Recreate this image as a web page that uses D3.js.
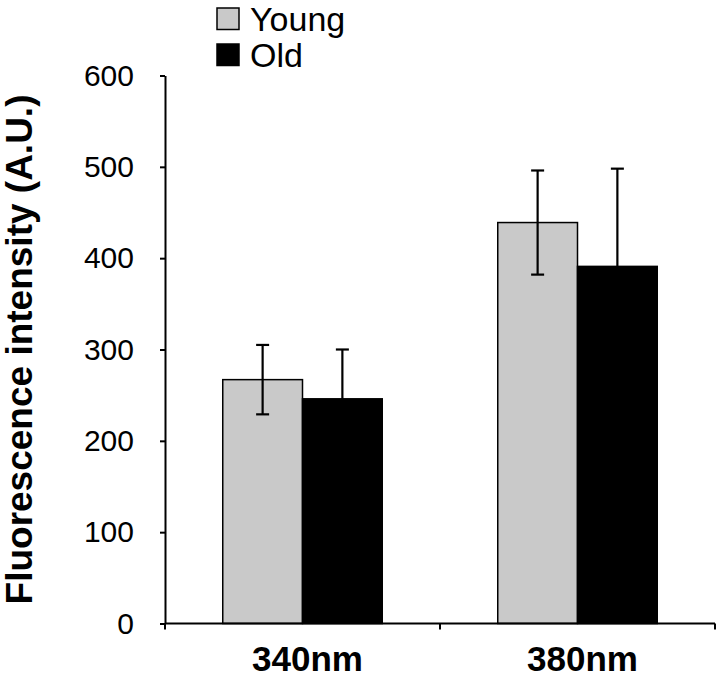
<!DOCTYPE html>
<html><head><meta charset="utf-8">
<script src="https://cdn.jsdelivr.net/npm/d3@7/dist/d3.min.js"></script>
<style>body{margin:0;background:#fff}svg{display:block}</style>
</head><body>
<script>
const categories = ["340nm", "380nm"];
const seriesNames = ["Young", "Old"];
const youngValues = [267, 439];
const oldValues = [246, 391];
const youngErrors = [38, 57];
const oldErrors = [54, 107];
const yTicks = [0, 100, 200, 300, 400, 500, 600];
const colors = ["#c9c9c9", "#000000"];

const W = 720, H = 678;
const x0 = 165, x1 = 715, yTop = 75.5, yBase = 623.5;
const svg = d3.select("body").append("svg").attr("width", W).attr("height", H);

const x = d3.scaleBand().domain(categories).range([x0, x1]).paddingInner(0.42).paddingOuter(0.21);
const xs = d3.scaleBand().domain(seriesNames).range([0, x.bandwidth()]);
const y = d3.scaleLinear().domain([0, 600]).range([yBase, yTop]);

const series = [
  {name: "Young", values: youngValues, errors: youngErrors, color: colors[0]},
  {name: "Old", values: oldValues, errors: oldErrors, color: colors[1]}
];

// bars
series.forEach(s => {
  const g = svg.append("g");
  g.selectAll("rect").data(categories).join("rect")
    .attr("x", c => x(c) + xs(s.name))
    .attr("y", (c, i) => y(s.values[i]))
    .attr("width", xs.bandwidth())
    .attr("height", (c, i) => yBase - y(s.values[i]))
    .attr("fill", s.color)
    .attr("stroke", "#000").attr("stroke-width", 1.5);
});
// error bars
series.forEach(s => {
  const g = svg.append("g").attr("stroke", "#000").attr("stroke-width", 2.2);
  categories.forEach((c, i) => {
    const cx = x(c) + xs(s.name) + xs.bandwidth() / 2;
    const hi = y(s.values[i] + s.errors[i]), lo = y(s.values[i] - s.errors[i]);
    g.append("line").attr("x1", cx).attr("x2", cx).attr("y1", hi).attr("y2", lo);
    g.append("line").attr("x1", cx - 6.5).attr("x2", cx + 6.5).attr("y1", hi).attr("y2", hi);
    g.append("line").attr("x1", cx - 6.5).attr("x2", cx + 6.5).attr("y1", lo).attr("y2", lo);
  });
});

// y axis
const yAxis = d3.axisLeft(y).tickValues(yTicks).tickSize(5).tickPadding(26).tickSizeOuter(0);
const ya = svg.append("g").attr("transform", `translate(${x0},0)`).call(yAxis);
ya.select(".domain").attr("stroke", "#000").attr("stroke-width", 2);
ya.selectAll(".tick line").attr("stroke", "#000").attr("stroke-width", 2);
ya.selectAll(".tick text").attr("font-family", "Liberation Sans, Arial, sans-serif")
  .attr("font-size", 30).attr("fill", "#000");

// x axis
const xa = svg.append("g").attr("transform", `translate(0,${yBase})`);
xa.append("line").attr("x1", x0).attr("x2", x1).attr("stroke", "#000").attr("stroke-width", 2);
const boundaries = [x0, x(categories[1]) - x.step() * x.paddingInner() / 2, x1];
xa.selectAll("line.tk").data(boundaries).join("line").attr("class", "tk")
  .attr("x1", d => d).attr("x2", d => d).attr("y1", 0).attr("y2", 6)
  .attr("stroke", "#000").attr("stroke-width", 2);
xa.selectAll("text").data(categories).join("text")
  .attr("x", c => x(c) + x.bandwidth() / 2 + 5).attr("y", 47)
  .attr("text-anchor", "middle")
  .attr("font-family", "Liberation Sans, Arial, sans-serif").attr("font-weight", "bold")
  .attr("font-size", 35).attr("fill", "#000").text(c => c);

// y label
svg.append("text")
  .attr("transform", `translate(32,${(yTop + yBase) / 2}) rotate(-90)`)
  .attr("text-anchor", "middle")
  .attr("font-family", "Liberation Sans, Arial, sans-serif").attr("font-weight", "bold")
  .attr("font-size", 37).attr("fill", "#000")
  .text("Fluorescence intensity (A.U.)");

// legend
const lg = svg.append("g");
series.forEach((s, i) => {
  const by = 30.5 + i * 36;
  lg.append("rect").attr("x", 217).attr("y", by - 22.5).attr("width", 22).attr("height", 21.5)
    .attr("fill", s.color).attr("stroke", "#000").attr("stroke-width", 1.5);
  lg.append("text").attr("x", 250).attr("y", by)
    .attr("font-family", "Liberation Sans, Arial, sans-serif")
    .attr("font-size", 34).attr("fill", "#000").text(s.name);
});
</script>
</body></html>
